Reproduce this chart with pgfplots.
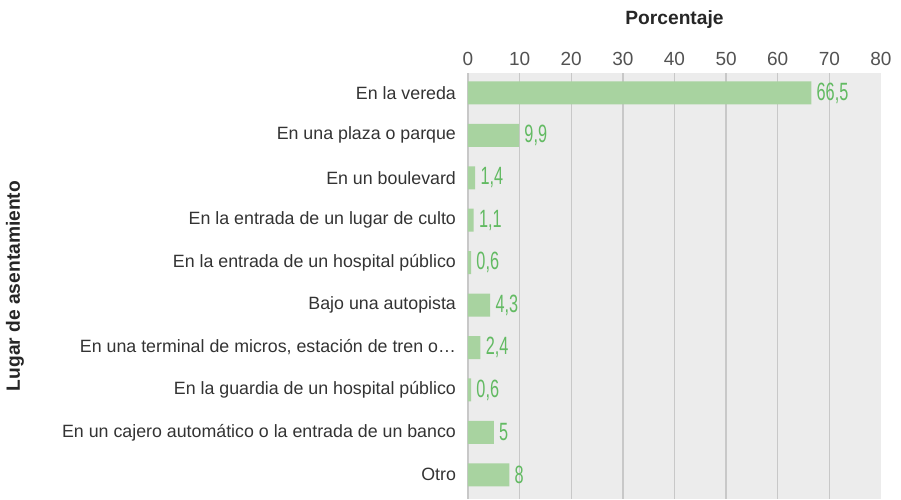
\documentclass[border=0pt]{standalone}
\usepackage{pgfplots}
\pgfplotsset{compat=1.18}
\usepackage{fontspec}
\setmainfont{Liberation Sans}
\definecolor{bgc}{HTML}{ECECEC}
\definecolor{gridc}{HTML}{C8C8C8}
\definecolor{barc}{HTML}{A8D3A0}
\definecolor{valc}{HTML}{62BA62}
\definecolor{txtc}{HTML}{333333}
\begin{document}
\begin{tikzpicture}
\useasboundingbox (-234pt,0pt) rectangle (216.5pt,249.5pt);
\begin{axis}[
  at={(0,0)}, anchor=south west,
  scale only axis,
  width=206.5pt, height=213pt,
  xmin=0, xmax=80,
  ymin=-0.47, ymax=9.57,
  y dir=reverse,
  xbar, bar width=11.5pt,
  axis background/.style={fill=bgc},
  axis line style={draw=none},
  grid style={gridc, line width=0.7pt},
  extra x ticks={0,10,...,70},
  extra x tick labels={},
  extra x tick style={xmajorgrids=true},
  major tick length=0pt,
  xtick={0,10,...,80},
  xticklabel pos=upper,
  /pgf/number format/assume math mode=true,
  xticklabel style={font=\fontsize{9.5pt}{11pt}\selectfont, text=txtc!85},
  ytick={0,...,9},
  yticklabels={En la vereda, En una plaza o parque, En un boulevard, En la entrada de un lugar de culto, En la entrada de un hospital público, Bajo una autopista, {En una terminal de micros, estación de tren o…}, En la guardia de un hospital público, En un cajero automático o la entrada de un banco, Otro},
  yticklabel style={font=\fontsize{8.9pt}{11pt}\selectfont, text=txtc, xshift=-2.5pt},
  every axis x label/.style={at={(rel axis cs:0.5,1)}, anchor=center, yshift=26.5pt, font=\bfseries\fontsize{9.6pt}{11pt}\selectfont, text=black!85},
  xlabel={Porcentaje},
  every axis y label/.style={at={(rel axis cs:0,0.5)}, xshift=-226.5pt, rotate=90, anchor=center, font=\bfseries\fontsize{9.6pt}{11pt}\selectfont, text=black!85},
  ylabel={Lugar de asentamiento},
  point meta=explicit symbolic,
  nodes near coords={\scalebox{0.65}[1]{\pgfplotspointmeta}},
  every node near coord/.style={font=\fontsize{12.5pt}{14pt}\selectfont, text=valc, anchor=west, inner sep=2.5pt},
]
\addplot[fill=barc, draw=none] coordinates {
  (66.5,0) [66,5]
  (9.9,1) [9,9]
  (1.4,2) [1,4]
  (1.1,3) [1,1]
  (0.6,4) [0,6]
  (4.3,5) [4,3]
  (2.4,6) [2,4]
  (0.6,7) [0,6]
  (5,8) [5]
  (8,9) [8]
};
\end{axis}
\end{tikzpicture}
\end{document}
